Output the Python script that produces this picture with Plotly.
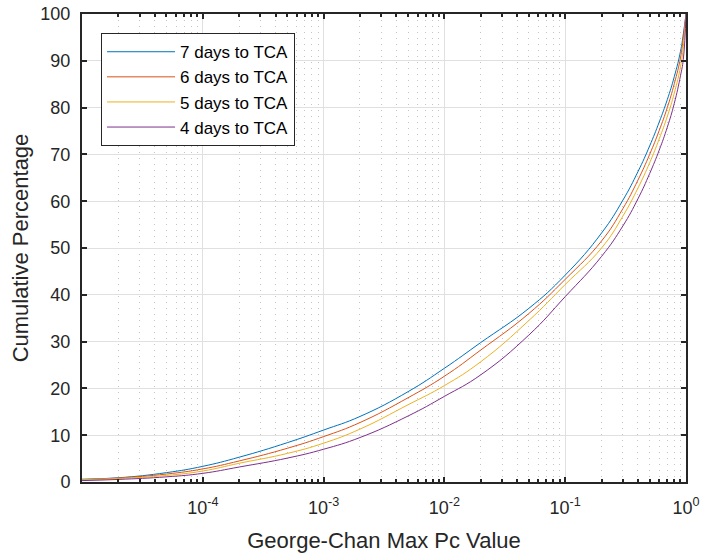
import plotly.graph_objects as go

x_vals = [1e-5, 2e-5, 5e-5, 1e-4, 2e-4, 5e-4, 1e-3, 2e-3, 5e-3, 1e-2, 2e-2, 5e-2,
          0.1, 0.2, 0.3, 0.4, 0.5, 0.6, 0.7, 0.8, 0.9, 0.95, 1.0]

days7 = [0.6, 0.9, 2.0, 3.35, 5.3, 8.4, 11.1, 14.0, 19.3, 24.3, 29.8, 37.1,
         44.2, 53.2, 60.2, 66.3, 71.8, 76.9, 81.7, 86.6, 92.0, 95.7, 100.0]
days6 = [0.5, 0.85, 1.7, 2.8, 4.5, 7.2, 9.7, 12.7, 18.0, 22.6, 28.2, 36.0,
         43.3, 51.5, 58.4, 64.5, 70.0, 75.1, 80.0, 85.1, 90.6, 94.9, 100.0]
days5 = [0.5, 0.75, 1.4, 2.35, 4.0, 6.1, 8.3, 11.3, 16.5, 20.6, 25.7, 34.5,
         42.2, 50.0, 56.8, 62.8, 68.2, 73.3, 78.1, 83.1, 88.7, 93.0, 100.0]
days4 = [0.3, 0.55, 1.1, 1.85, 3.2, 5.1, 7.0, 9.5, 14.1, 18.3, 22.9, 31.4,
         39.6, 48.2, 54.7, 60.5, 65.9, 70.9, 75.8, 80.9, 86.8, 90.3, 100.0]

series_names = ["7 days to TCA", "6 days to TCA", "5 days to TCA", "4 days to TCA"]
series_vals = [days7, days6, days5, days4]
colors = ["#0072BD", "#D95319", "#EDB120", "#7E2F8E"]

x_tick_vals = [1e-4, 1e-3, 1e-2, 1e-1, 1e0]
x_tick_text = ["10<sup>-4</sup>", "10<sup>-3</sup>", "10<sup>-2</sup>", "10<sup>-1</sup>", "10<sup>0</sup>"]

minor_vals = [m * 10.0 ** e for e in range(-5, 0) for m in range(2, 10)]

fig = go.Figure()
for name, vals, c in zip(series_names, series_vals, colors):
    fig.add_trace(go.Scatter(x=x_vals, y=vals, mode="lines", name=name,
                             line=dict(color=c, width=1, shape="spline", smoothing=1.3)))

axis_color = "#262626"
font_family = "Liberation Sans, Arial, sans-serif"

fig.update_layout(
    width=702, height=555,
    margin=dict(l=82, r=16, t=14, b=73),
    paper_bgcolor="white", plot_bgcolor="white",
    font=dict(family=font_family, color=axis_color, size=18),
    showlegend=True,
    legend=dict(x=0.0315, y=0.959, xanchor="left", yanchor="top",
                bgcolor="white", bordercolor=axis_color, borderwidth=1,
                font=dict(size=17, color="black", family=font_family),
                itemwidth=68, tracegroupgap=0),
)

fig.update_xaxes(
    type="log", range=[-5, 0], automargin=False,
    tickmode="array", tickvals=x_tick_vals, ticktext=x_tick_text,
    ticks="inside", ticklen=5, tickwidth=1.5, tickcolor=axis_color,
    showline=True, linecolor=axis_color, linewidth=2, mirror="ticks",
    showgrid=True, gridcolor="#e0e0e0", gridwidth=1,
    zeroline=False,
    tickfont=dict(size=18, color=axis_color),
    ticklabelstandoff=8, ticklabeloverflow="allow",
    title=dict(text="George-Chan Max Pc Value", font=dict(size=22, color=axis_color), standoff=16),
    minor=dict(tickmode="array", tickvals=minor_vals, ticks="inside", ticklen=3,
               tickcolor=axis_color, tickwidth=1.5,
               showgrid=True, gridcolor="#c4c4c4", griddash="1px,5px", gridwidth=1),
)

fig.update_yaxes(
    range=[0, 100], dtick=10, automargin=False,
    ticks="inside", ticklen=5, tickwidth=1.5, tickcolor=axis_color,
    showline=True, linecolor=axis_color, linewidth=2, mirror="ticks",
    showgrid=True, gridcolor="#e0e0e0", gridwidth=1,
    zeroline=False,
    tickfont=dict(size=18, color=axis_color),
    ticklabelstandoff=6, ticklabeloverflow="allow",
    title=dict(text="Cumulative Percentage", font=dict(size=22, color=axis_color), standoff=6),
)

fig.write_html(
    "out.html",
    config={"displayModeBar": False},
    post_script="document.body.style.margin='0';document.body.style.overflow='hidden';",
)
